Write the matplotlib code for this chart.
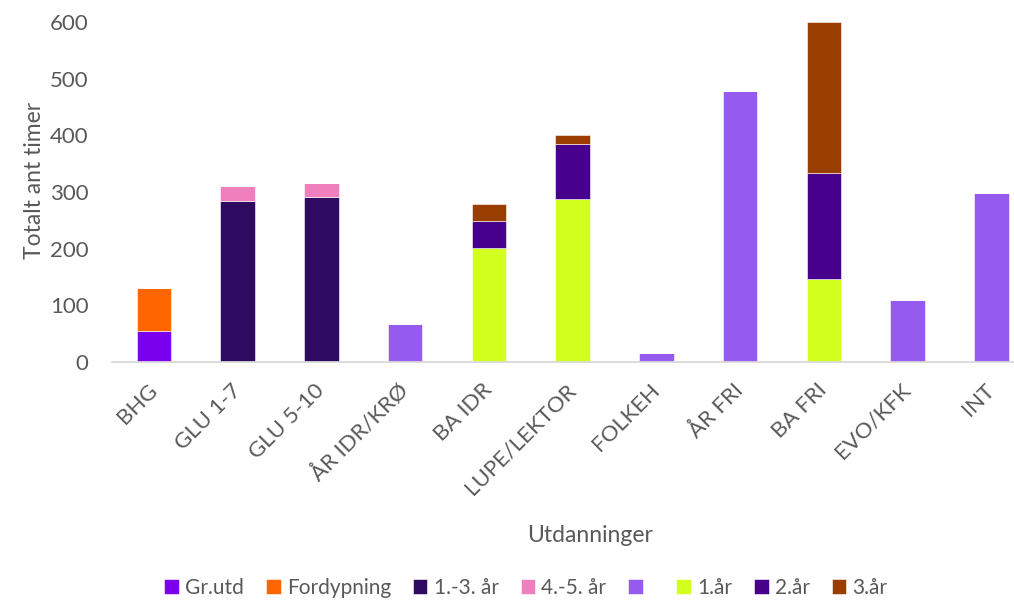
import numpy as np
import matplotlib.pyplot as plt

categories = ['BHG', 'GLU 1-7', 'GLU 5-10', 'ÅR IDR/KRØ', 'BA IDR', 'LUPE/LEKTOR',
              'FOLKEH', 'ÅR FRI', 'BA FRI', 'EVO/KFK', 'INT']

gr_utd     = [55, 0, 0, 0, 0, 0, 0, 0, 0, 0, 0]
fordypning = [75, 0, 0, 0, 0, 0, 0, 0, 0, 0, 0]
aar_1_3    = [0, 285, 291, 0, 0, 0, 0, 0, 0, 0, 0]
aar_4_5    = [0, 25, 25, 0, 0, 0, 0, 0, 0, 0, 0]
enkel      = [0, 0, 0, 67, 0, 0, 16, 478, 0, 109, 298]
aar1       = [0, 0, 0, 0, 201, 287, 0, 0, 147, 0, 0]
aar2       = [0, 0, 0, 0, 47, 97, 0, 0, 186, 0, 0]
aar3       = [0, 0, 0, 0, 31, 16, 0, 0, 267, 0, 0]

series = [
    ('Gr.utd', gr_utd, '#7A00EE'),
    ('Fordypning', fordypning, '#FF6600'),
    ('1.-3. år', aar_1_3, '#2E0B60'),
    ('4.-5. år', aar_4_5, '#F07FBD'),
    (' ', enkel, '#955BEE'),
    ('1.år', aar1, '#D3FF1F'),
    ('2.år', aar2, '#47008C'),
    ('3.år', aar3, '#993D00'),
]

plt.rcParams['font.family'] = ['Lato', 'DejaVu Sans']
grey = '#595959'

fig = plt.figure(figsize=(10.14, 6.01), dpi=100)
ax = fig.add_axes([112 / 1014, 1 - 362 / 601, 1 - 112 / 1014, 340 / 601])

x = np.arange(len(categories))
bottom = np.zeros(len(categories))
for label, vals, col in series:
    vals = np.array(vals, dtype=float)
    ax.bar(x, vals, 0.41, bottom=bottom, color=col, label=label,
           edgecolor='white', linewidth=0.4)
    bottom += vals

ax.set_xlim(-0.5, 10.27)
ax.set_ylim(0, 600)
ax.set_yticks(range(0, 601, 100))
ax.set_xticks(x)
ax.set_xticklabels(categories, rotation=45, ha='right', va='center',
                   rotation_mode='anchor')
ax.tick_params(axis='y', length=0, pad=17, labelsize=16, labelcolor=grey)
ax.tick_params(axis='x', length=0, pad=18, labelsize=16, labelcolor=grey)

for s in ['top', 'right', 'left']:
    ax.spines[s].set_visible(False)
ax.spines['bottom'].set_color('#D9D9D9')
ax.spines['bottom'].set_linewidth(1.3)

fig.text(35 / 1014, 1 - 180 / 601, 'Totalt ant timer', rotation=90,
         ha='center', va='center', fontsize=16.5, color=grey)
fig.text(590 / 1014, 1 - 535 / 601, 'Utdanninger',
         ha='center', va='center', fontsize=16.5, color=grey)

fig.legend(loc='center', bbox_to_anchor=(526 / 1014, 1 - 588 / 601), ncol=8,
           frameon=False, fontsize=15, labelcolor=grey, handlelength=0.7,
           handleheight=0.7, handletextpad=0.3, columnspacing=1.05)

fig.savefig('out.png', dpi=100)
